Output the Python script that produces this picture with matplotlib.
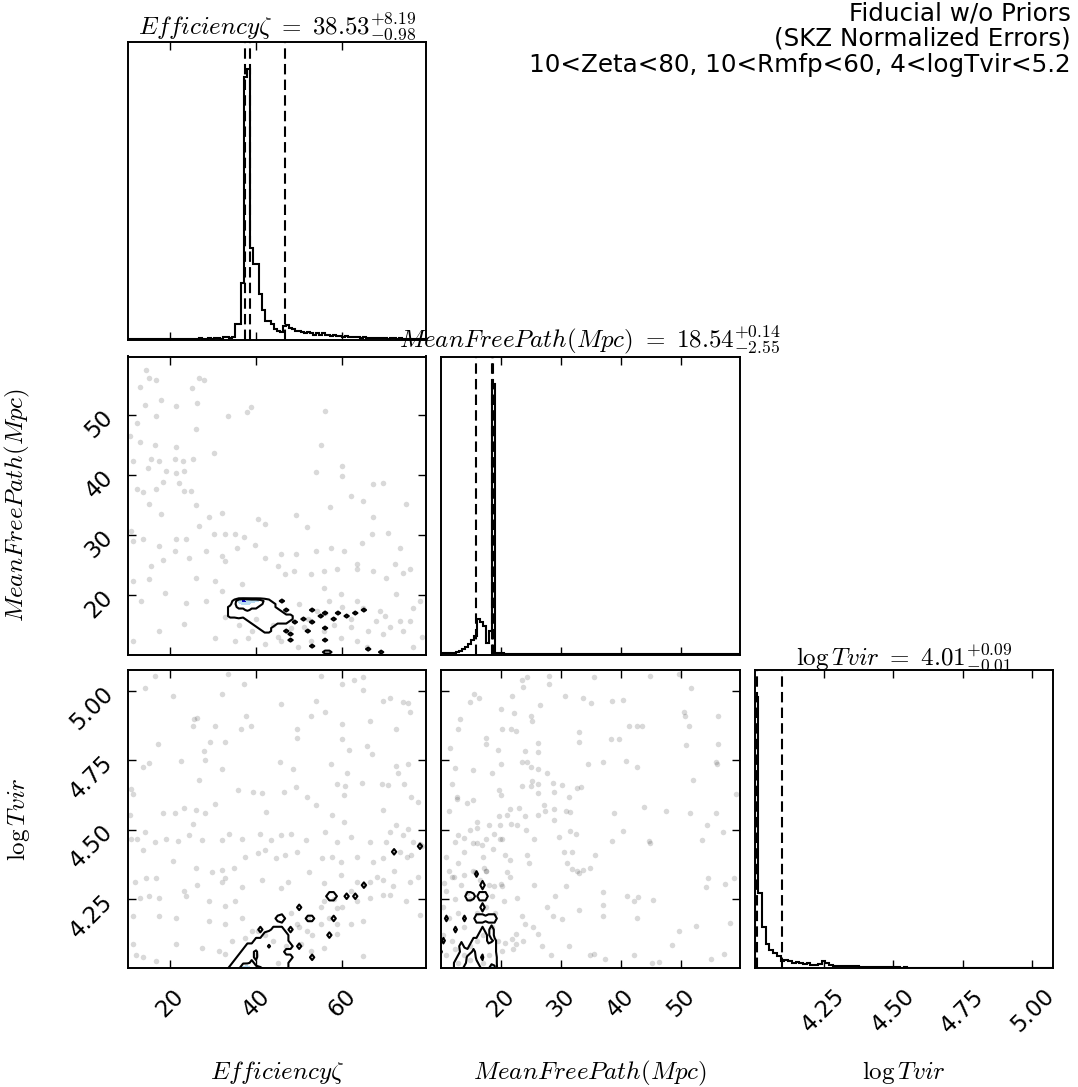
import numpy as np
import matplotlib
matplotlib.use("Agg")
import matplotlib.pyplot as plt

plt.rcParams['mathtext.fontset'] = 'cm'
plt.rcParams['font.family'] = ['DejaVu Sans']

# ---------------- data ----------------
labels = [r"$Efficiency\zeta$", r"$MeanFreePath(Mpc)$", r"$\log Tvir$"]
title_names = [r"Efficiency\zeta", r"MeanFreePath(Mpc)", r"\log Tvir"]
medians = [38.53, 18.54, 4.01]
err_plus = [8.19, 0.14, 0.09]
err_minus = [0.98, 2.55, 0.01]
ranges = [(10.2, 79.4), (10.1, 59.7), (4.0015, 5.075)]
ticks = [[20, 40, 60], [20, 30, 40, 50], [4.25, 4.50, 4.75, 5.00]]
tick_labels = [["20", "40", "60"], ["20", "30", "40", "50"],
               ["4.25", "4.50", "4.75", "5.00"]]
top_text = "Fiducial w/o Priors\n(SKZ Normalized Errors)\n10<Zeta<80, 10<Rmfp<60, 4<logTvir<5.2"

# 1D marginal histograms (relative counts per bin)
zeta_hist = [0.5, 0.4, 0.5, 0.3, 0.5, 0.4, 0.3, 0.5, 0.4, 0.3,
             0.4, 0.5, 0.3, 0.4, 0.3, 0.5, 0.4, 0.3, 0.4, 0.5,
             0.3, 0.4, 0.5, 0.4, 0.6, 0.4, 0.5, 0.6, 0.5, 0.7,
             0.6, 0.5, 1.0, 1.2, 0.6, 1.0, 6.0, 6.0, 21.0, 97.0,
             100.0, 34.0, 28.0, 28.0, 17.0, 11.0, 7.0, 7.0, 6.0, 4.0,
             3.5, 3.0, 5.0, 5.5, 4.5, 4.0, 3.5, 3.5, 3.0, 2.5,
             3.0, 2.5, 2.0, 2.5, 2.0, 2.5, 2.0, 2.0, 1.5, 2.0,
             1.5, 1.5, 1.2, 1.5, 1.0, 1.2, 1.0, 1.2, 0.8, 1.0,
             0.8, 0.9, 0.7, 0.8, 0.6, 0.8, 0.7, 0.5, 0.6, 0.7,
             0.5, 0.6, 0.4, 0.5, 0.5, 0.4, 0.3, 0.5, 0.3, 0.2]
rmfp_hist = [0.6, 0.6, 0.4, 0.4, 0.6, 0.8, 1.3, 1.9, 2.6, 3.8,
             5.5, 7.0, 13.0, 12.0, 10.5, 4.3, 8.6, 100.0, 0.5, 0.4,
             0.4, 0.3, 0.3, 0.3, 0.2, 0.3, 0.2, 0.2, 0.2, 0.2,
             0.2, 0.2, 0.2, 0.1, 0.2, 0.1, 0.1, 0.2, 0.1, 0.1,
             0.1, 0.1, 0.1, 0.1, 0.1, 0.1, 0.1, 0.1, 0.1, 0.1,
             0.1, 0.1, 0.1, 0.1, 0.1, 0.1, 0.1, 0.1, 0.1, 0.1,
             0.1, 0.1, 0.1, 0.1, 0.1, 0.1, 0.1, 0.1, 0.1, 0.1,
             0.1, 0.1, 0.1, 0.1, 0.1, 0.1, 0.1, 0.1, 0.1, 0.1,
             0.1, 0.1, 0.1, 0.1, 0.1, 0.1, 0.1, 0.1, 0.1, 0.1,
             0.1, 0.1, 0.1, 0.1, 0.1, 0.1, 0.1, 0.1, 0.1, 0.1]
tvir_hist = [100.0, 27.6, 15.0, 9.0, 6.7, 5.5, 4.5, 2.5, 3.0, 2.5,
             2.0, 2.2, 1.8, 1.5, 1.8, 1.2, 1.2, 1.5, 2.5, 2.0,
             1.0, 0.9, 0.8, 0.9, 0.7, 0.8, 0.6, 0.7, 0.5, 0.4,
             0.5, 0.4, 0.3, 0.4, 0.3, 0.3, 0.2, 0.2, 0.2, 0.1,
             0.2, 0.1, 0.1, 0.1, 0.1, 0.1, 0.1, 0.1, 0.1, 0.1,
             0.1, 0.1, 0.1, 0.1, 0.1, 0.1, 0.1, 0.1, 0.1, 0.1,
             0.1, 0.1, 0.1, 0.1, 0.1, 0.1, 0.1, 0.1, 0.1, 0.1,
             0.1, 0.1, 0.1, 0.1, 0.1, 0.1, 0.1, 0.1, 0.1, 0.1]
hists = [zeta_hist, rmfp_hist, tvir_hist]

# 2D samples (x, y) per panel
pts_zeta_rmfp = np.array([
    [14.6,57.5],[15.3,56.1],[13.0,54.7],[16.9,55.8],[26.8,56.1],[27.9,55.8],[25.2,54.5],[18.0,52.5],
    [14.2,51.7],[16.9,49.8],[21.4,51.4],[26.4,52.0],[33.6,49.8],[37.8,50.5],[38.8,51.3],[56.0,50.6],
    [12.3,48.6],[26.0,47.7],[10.8,46.4],[13.0,45.5],[16.5,45.0],[21.4,44.6],[30.2,43.6],[25.3,42.7],
    [21.1,42.6],[11.5,42.3],[15.7,42.6],[17.6,42.3],[23.0,42.3],[15.0,41.2],[19.2,40.6],[21.4,40.3],
    [23.3,40.6],[18.4,38.8],[22.2,38.7],[12.3,37.6],[13.8,37.2],[16.9,37.6],[23.3,37.3],[24.9,37.3],
    [15.3,35.1],[18.0,33.5],[26.0,35.0],[29.1,33.0],[32.1,33.7],[40.5,32.7],[42.0,31.9],[49.3,33.3],
    [51.8,31.4],[26.8,31.5],[30.2,30.1],[32.9,30.1],[35.2,30.1],[37.1,29.7],[11.1,30.7],[11.5,29.0],
    [13.8,29.3],[17.6,28.2],[21.4,29.3],[23.7,29.3],[21.1,27.3],[24.5,26.2],[28.3,27.3],[32.1,26.5],
    [32.9,25.7],[35.5,27.9],[39.7,28.4],[42.0,26.2],[45.8,26.8],[49.3,26.8],[53.8,27.3],[57.3,27.9],
    [60.3,27.3],[63.4,25.1],[64.5,28.7],[66.8,30.1],[70.6,30.4],[73.3,27.9],[55.0,45.0],[53.8,40.5],
    [59.9,41.5],[59.9,39.8],[67.2,38.5],[69.5,38.6],[61.9,36.5],[64.9,35.6],[74.8,35.2],[57.1,34.6],
    [67.0,33.0],[18.4,25.9],[15.7,24.8],[11.5,22.3],[15.3,22.6],[18.8,20.4],[13.4,19.0],[23.7,18.7],
    [28.3,19.0],[32.1,20.7],[36.7,21.8],[30.6,22.3],[26.0,22.9],[45.1,24.8],[46.6,23.5],[48.9,24.0],
    [52.7,23.5],[55.8,24.0],[58.8,24.3],[63.4,24.3],[67.2,24.0],[70.2,22.9],[72.1,25.1],[74.1,23.7],
    [75.6,24.3],[72.5,20.1],[77.9,19.0],[76.3,17.9],[73.3,15.7],[75.6,15.7],[71.0,14.6],[69.5,13.5],
    [63.4,12.4],[59.6,12.9],[52.7,12.4],[49.7,11.3],[45.8,12.4],[42.0,11.8],[38.2,12.9],[35.2,12.4],
    [30.6,12.9],[23.3,15.2],[17.6,14.0],[11.5,12.4],[32.9,16.3],[55.8,21.2],[59.6,20.1],[63.4,19.0],
    [64.9,17.9],[68.7,17.4],[67.9,15.7],[54.2,17.4],[52.7,15.7],[51.2,14.6],[55.8,14.0],[61.9,14.6],
    [65.7,11.3],[76.3,11.3],[74.1,14.0],[40.0,16.0],[44.0,15.0],[48.0,14.5],[52.0,16.0],[56.0,17.0],
    [58.0,15.0],[62.0,16.0],[66.0,14.0],[60.0,18.0],[45.0,13.0],[36.0,15.0],[39.0,14.0],[50.0,18.5],
    [57.0,19.0],[70.0,16.5],[78.5,13.0]])

pts_zeta_tvir = np.array([
    [16.5,5.054],[33.6,5.061],[55.0,5.054],[62.6,5.039],[64.9,5.051],[14.2,5.010],[37.1,5.025],[59.9,5.025],
    [64.9,5.004],[32.1,4.989],[20.7,4.980],[69.5,4.962],[71.0,4.974],[74.1,4.958],[75.2,4.956],[45.8,4.952],
    [53.8,4.964],[75.6,4.923],[26.4,4.902],[25.6,4.899],[37.7,4.911],[49.6,4.863],[38.8,4.875],[36.5,4.861],
    [56.0,4.923],[52.7,4.911],[59.9,4.879],[66.4,4.891],[72.4,4.861],[25.3,4.873],[30.4,4.875],[49.6,4.831],
    [59.9,4.827],[65.7,4.801],[17.2,4.807],[29.3,4.816],[32.9,4.816],[27.9,4.783],[61.5,4.787],[66.8,4.772],
    [22.6,4.748],[28.1,4.751],[45.5,4.744],[57.3,4.736],[13.7,4.724],[15.3,4.739],[48.5,4.720],[32.1,4.720],
    [72.5,4.730],[75.2,4.736],[72.9,4.704],[61.1,4.704],[26.8,4.680],[58.8,4.664],[60.7,4.656],[64.5,4.668],
    [69.3,4.664],[70.5,4.661],[74.4,4.664],[35.9,4.644],[39.4,4.637],[41.3,4.632],[46.4,4.635],[49.3,4.652],
    [51.8,4.619],[60.3,4.623],[76.0,4.617],[77.5,4.601],[11.1,4.647],[11.5,4.629],[30.6,4.593],[42.4,4.563],
    [53.8,4.589],[57.7,4.551],[60.3,4.528],[69.5,4.569],[72.5,4.516],[23.3,4.578],[26.0,4.569],[28.1,4.561],
    [21.3,4.561],[18.5,4.561],[25.3,4.522],[10.8,4.551],[11.1,4.468],[12.3,4.468],[14.2,4.492],[16.5,4.456],
    [19.2,4.468],[22.0,4.459],[24.5,4.480],[27.5,4.462],[32.1,4.462],[33.8,4.486],[36.7,4.468],[40.9,4.486],
    [43.5,4.462],[45.8,4.480],[48.1,4.486],[51.6,4.462],[56.1,4.492],[58.8,4.456],[61.9,4.474],[66.4,4.456],
    [70.2,4.456],[71.0,4.492],[74.1,4.480],[75.2,4.504],[76.3,4.456],[77.9,4.447],[13.8,4.426],[20.7,4.387],
    [26.0,4.361],[29.8,4.349],[32.1,4.355],[34.8,4.361],[37.5,4.403],[40.5,4.415],[42.0,4.426],[44.7,4.397],
    [46.6,4.409],[49.6,4.420],[52.3,4.349],[55.4,4.397],[57.7,4.403],[59.6,4.385],[63.4,4.403],[67.2,4.385],
    [69.5,4.397],[73.3,4.420],[76.0,4.409],[11.9,4.313],[14.6,4.325],[16.9,4.325],[23.3,4.278],[26.4,4.301],
    [32.1,4.313],[32.9,4.325],[36.7,4.292],[41.3,4.319],[45.8,4.290],[47.4,4.313],[55.8,4.307],[59.6,4.337],
    [63.4,4.313],[66.4,4.313],[69.5,4.319],[71.8,4.296],[75.6,4.313],[77.5,4.331],[13.0,4.254],[15.3,4.260],
    [17.6,4.254],[23.7,4.260],[29.1,4.242],[32.9,4.224],[35.2,4.242],[55.8,4.242],[58.8,4.218],[63.4,4.242],
    [66.4,4.254],[69.5,4.266],[71.0,4.266],[74.8,4.242],[77.9,4.194],[11.5,4.188],[17.6,4.188],[21.4,4.182],
    [29.1,4.171],[32.9,4.159],[36.7,4.182],[40.5,4.135],[49.6,4.159],[51.9,4.135],[55.0,4.159],[58.8,4.159],
    [61.9,4.159],[64.9,4.171],[58.8,4.123],[64.9,4.046],[55.8,4.075],[52.7,4.063],[50.4,4.087],[11.5,4.087],
    [13.8,4.040],[16.9,4.028],[21.4,4.087],[27.5,4.075],[31.4,4.063],[32.9,4.051],[34.4,4.099],[37.5,4.111],
    [39.0,4.135],[12.1,4.049],[40.0,4.050],[44.0,4.100],[47.0,4.080],[50.0,4.150],[52.0,4.180],[55.0,4.220],
    [58.0,4.250],[62.0,4.280],[45.0,4.020],[42.0,4.120],[48.0,4.200],[53.0,4.120],[57.0,4.180],[60.0,4.220],
    [65.0,4.300],[68.0,4.330],[72.0,4.350],[75.0,4.400],[78.5,4.440]])

pts_rmfp_tvir = np.array([
    [23.6,5.039],[24.4,5.049],[28.0,5.054],[28.0,5.025],[35.6,5.051],[44.8,5.054],[49.6,5.061],[23.8,5.013],
    [51.6,5.010],[15.6,4.989],[21.9,4.983],[16.4,4.974],[15.0,4.958],[26.6,4.950],[30.7,4.980],[33.7,4.974],
    [35.1,4.956],[38.5,4.962],[40.3,4.966],[20.0,4.935],[25.0,4.908],[25.2,4.891],[22.3,4.920],[50.4,4.923],
    [50.6,4.911],[56.1,4.908],[13.2,4.899],[13.0,4.861],[20.2,4.863],[21.7,4.861],[22.6,4.855],[33.0,4.851],
    [33.0,4.816],[41.3,4.875],[42.7,4.873],[43.5,4.875],[51.3,4.875],[17.5,4.831],[17.5,4.807],[38.3,4.827],
    [39.6,4.827],[50.8,4.804],[56.1,4.810],[11.6,4.795],[19.6,4.786],[24.1,4.783],[26.3,4.813],[26.3,4.780],
    [23.5,4.744],[24.4,4.744],[25.1,4.727],[26.2,4.720],[34.5,4.736],[37.1,4.742],[40.9,4.748],[42.6,4.724],
    [55.8,4.744],[56.0,4.738],[12.4,4.722],[15.4,4.714],[20.0,4.736],[18.6,4.704],[27.7,4.704],[11.9,4.664],
    [23.5,4.656],[25.0,4.656],[25.2,4.676],[26.3,4.664],[28.7,4.668],[30.2,4.661],[32.7,4.649],[33.3,4.653],
    [31.3,4.619],[12.8,4.617],[12.8,4.609],[19.7,4.644],[20.0,4.625],[14.5,4.597],[15.4,4.605],[26.3,4.632],
    [28.8,4.635],[52.0,4.679],[59.2,4.629],[11.5,4.566],[16.0,4.528],[16.0,4.506],[19.7,4.548],[21.1,4.554],
    [21.6,4.575],[23.1,4.578],[24.0,4.548],[26.2,4.554],[27.4,4.566],[27.2,4.587],[28.8,4.575],[30.8,4.566],
    [31.5,4.563],[28.8,4.534],[18.0,4.516],[19.9,4.516],[21.8,4.522],[22.7,4.516],[24.3,4.498],[31.5,4.494],
    [32.6,4.486],[38.8,4.560],[40.3,4.494],[43.8,4.581],[47.5,4.567],[51.4,4.560],[55.8,4.560],[54.3,4.518],
    [57.0,4.492],[53.5,4.462],[44.6,4.459],[44.9,4.450],[38.5,4.460],[12.5,4.454],[14.0,4.470],[15.5,4.450],
    [17.5,4.468],[16.9,4.444],[18.9,4.486],[20.2,4.468],[19.9,4.466],[18.7,4.429],[20.8,4.409],[21.6,4.391],
    [24.4,4.409],[24.7,4.379],[25.6,4.465],[29.7,4.474],[30.5,4.420],[31.9,4.420],[31.0,4.381],[31.9,4.357],
    [32.7,4.351],[33.7,4.355],[34.9,4.361],[33.1,4.345],[35.7,4.409],[10.6,4.307],[12.2,4.331],[13.9,4.337],
    [15.8,4.349],[17.2,4.361],[21.1,4.349],[21.6,4.331],[20.2,4.296],[25.5,4.301],[29.1,4.262],[30.9,4.296],
    [37.1,4.275],[41.0,4.262],[42.1,4.244],[42.8,4.256],[45.4,4.246],[54.5,4.325],[54.1,4.292],[57.3,4.304],
    [58.8,4.325],[27.7,4.221],[28.7,4.188],[30.2,4.177],[37.1,4.230],[33.0,4.212],[37.1,4.188],[42.6,4.182],
    [52.5,4.153],[58.2,4.165],[49.6,4.135],[48.5,4.084],[22.6,4.087],[20.8,4.090],[23.8,4.099],[26.3,4.123],
    [26.9,4.081],[28.3,4.049],[31.3,4.081],[34.9,4.049],[35.6,4.052],[37.4,4.034],[42.1,4.049],[45.2,4.018],
    [46.4,4.022],[54.9,4.034],[57.1,4.052],[22.1,4.069],[21.9,4.105],[20.2,4.063],[22.5,4.123],[25.4,4.149],
    [23.5,4.188],[24.1,4.159],[20.5,4.242],[22.7,4.254],[20.0,4.304],[18.9,4.296],[17.5,4.351],
    [11.0,4.05],[12.0,4.10],[13.0,4.02],[14.0,4.15],[15.0,4.08],[16.0,4.20],[17.0,4.12],[18.0,4.05],
    [12.5,4.25],[13.5,4.30],[11.5,4.18],[14.5,4.27],[16.5,4.32],[17.5,4.22],[15.5,4.35],[18.5,4.15],
    [10.5,4.22],[12.0,4.33],[13.0,4.38],[11.0,4.40],[14.0,4.42],[16.0,4.45],[17.0,4.40],[15.0,4.50],
    [13.0,4.48],[11.5,4.35],[18.0,4.30],[19.0,4.20],[19.5,4.10],[17.0,4.02],[15.0,4.03],[12.5,4.07],
    [10.5,4.12],[16.0,4.10],[14.0,4.05],[18.5,4.26],[13.0,4.20],[15.0,4.25],[17.5,4.35],[11.0,4.28]])

# 2D density maps (digit = relative density), rows listed from top to bottom
dens_zeta_rmfp = [  # x: zeta 33..70 step 1, y: rmfp 20.5 .. 10.0 step 0.5
    "", "", "",
    "00157655421001",
    "0024554332110",
    "0123333321210",
    "0122232222111" "01" "00000" "1" "00000000000" "1",
    "01122121212111" "000000000" "1" "00" "1" "000" "1",
    "0112121121112111" "000000" "1" "00000" "1",
    "00000112111112" "11001" "000000" "1",
    "000000" "111211111" "0" "1" "000" "1",
    "0000000" "11211",
    "00000000" "111" "000000000000" "1",
    "000000000" "11" "000" "1" "0000" "1",
    "000000000000000" "1",
    "",
    "000000000000000" "1" "0000000" "1",
    "",
    "00000000000000000000" "1",
    "000000000000000000000000000000000" "1",
    "00000000000000000000000" "11" "00000000000" "1",
    ""]
dens_zeta_tvir = [  # x: zeta 33..80 step 1, y: tvir 4.50 .. 4.00 step 0.02
    "", "", "",
    "000000000000000000000000000000000000000000000" "1",
    "000000000000000000000000000000000000000" "1",
    "", "", "", "", "",
    "00000000000000000000000000000000" "1",
    "",
    "000000000000000000000000" "22" "00" "1" "0" "1",
    "",
    "00000000000000000" "1",
    "",
    "000000000000" "12" "00000" "11" "0000" "1",
    "",
    "00000000" "1" "00" "111" "0" "1",
    "000000000" "121211" "000000000" "1",
    "0000000" "11212111",
    "00000" "11121312111" "0" "1",
    "0000" "1223121211",
    "000" "121231212121" "1" "0000" "1",
    "00" "1122321221211",
    "0" "11267433221211"]
dens_rmfp_tvir = [  # x: rmfp 10..22 step 0.5, y: tvir 4.40 .. 4.00 step 0.02
    "", "", "",
    "000000000000" "1",
    "",
    "00000000000000" "2",
    "",
    "000000000" "2210222",
    "",
    "00000000000000" "2",
    "",
    "00" "1" "00000" "1" "000" "2221222",
    "",
    "00000" "1" "00000000" "1" "00" "2",
    "0000000000000" "111" "0" "2",
    "0" "1" "000000000" "11211" "00" "1",
    "0000000" "2" "00" "121211121",
    "1" "000000" "121232121211",
    "000000" "1213442231212",
    "00000" "11223443221212",
    "00000" "12234443322273"]

dens_grids = {
    (1, 0): (dens_zeta_rmfp, np.arange(33, 71, 1.0), np.arange(10.0, 20.51, 0.5)),
    (2, 0): (dens_zeta_tvir, np.arange(33, 81, 1.0), np.arange(4.0, 4.501, 0.02)),
    (2, 1): (dens_rmfp_tvir, np.arange(10.0, 22.01, 0.5), np.arange(4.0, 4.401, 0.02)),
}
points = {(1, 0): pts_zeta_rmfp, (2, 0): pts_zeta_tvir, (2, 1): pts_rmfp_tvir}


def rows_to_grid(rows, nx):
    return np.array([[float(c) for c in r.ljust(nx, "0")[:nx]] for r in rows[::-1]])


# ---------------- figure ----------------
W, H = 1078, 1087
fig = plt.figure(figsize=(W / 100, H / 100), dpi=100)
col_left = [127.5, 441.0, 754.5]
row_top = [42.0, 356.5, 670.0]
aw, ah = 298.5, 298.0

axes = {}
for i in range(3):
    for j in range(i + 1):
        ax = fig.add_axes([col_left[j] / W, 1 - (row_top[i] + ah) / H, aw / W, ah / H])
        axes[(i, j)] = ax
        for sp in ax.spines.values():
            sp.set_linewidth(1.4)
        ax.tick_params(direction="in", top=True, right=True, length=6, width=1.0,
                       labelsize=16.5)
        ax.tick_params(axis="x", pad=12)
        ax.tick_params(axis="y", pad=7)
        ax.set_xlim(*ranges[j])
        ax.set_xticks(ticks[j])
        if i == j:
            counts = np.array(hists[i])
            edges = np.linspace(ranges[i][0], ranges[i][1], len(counts) + 1)
            ax.stairs(counts, edges, color="k", linewidth=1.5)
            ax.set_ylim(0, 1.1 * counts.max())
            ax.set_yticks([])
            for q in (medians[i] - err_minus[i], medians[i], medians[i] + err_plus[i]):
                ax.axvline(q, color="k", ls=(0, (5, 2.5)), lw=1.5)
            ax.set_title(r"$%s\ =\ %.2f^{+%.2f}_{-%.2f}$" % (title_names[i], medians[i],
                                                              err_plus[i], err_minus[i]),
                         fontsize=18, pad=4)
        else:
            ax.set_ylim(*ranges[i])
            ax.set_yticks(ticks[i])
            p = points[(i, j)]
            ax.plot(p[:, 0], p[:, 1], "o", color="k", alpha=0.15, ms=4.0, mew=0, zorder=1)
            rows, gx, gy = dens_grids[(i, j)]
            Z = rows_to_grid(rows, len(gx))
            ax.contourf(gx, gy, Z, levels=[4.5, 6.5, 10], colors=["#b8dcf2", "#0000c0"], zorder=2)
            ax.contour(gx, gy, Z, levels=[0.5, 2.5], colors="k", linewidths=1.5, zorder=3)
        # labels
        if i == 2:
            ax.set_xticklabels(tick_labels[j], rotation=45)
            ax.set_xlabel(labels[j], fontsize=18)
            ax.xaxis.set_label_coords(0.5, -0.305)
        else:
            ax.set_xticklabels([])
        if j == 0 and i > 0:
            ax.set_yticklabels(tick_labels[i], rotation=45)
            ax.set_ylabel(labels[i], fontsize=18)
            ax.yaxis.set_label_coords(-0.32, 0.5)
        elif i != j:
            ax.set_yticklabels([])

fig.text(0.9935, 0.999, top_text, ha="right", va="top", fontsize=17.75, linespacing=1.1)

fig.savefig("out.png", dpi=100)
